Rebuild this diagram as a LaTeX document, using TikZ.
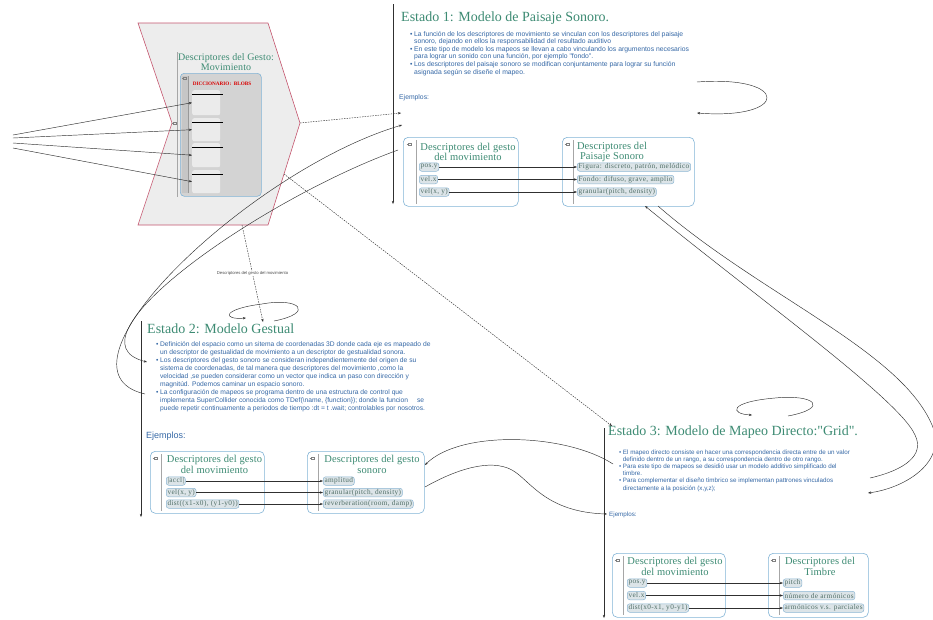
\documentclass[tikz,border=0pt]{standalone}
\usepackage{fontspec}
\setmainfont{Liberation Serif}
\setsansfont{Liberation Sans}
\newfontfamily\pillserif[LetterSpace=5]{Liberation Serif}
\newfontfamily\headserif[LetterSpace=1]{Liberation Serif}
\usetikzlibrary{arrows.meta}

\definecolor{stategreen}{HTML}{3D8B73}
\definecolor{bulletblue}{HTML}{3568A6}
\definecolor{frameblue}{HTML}{82B4D6}
\definecolor{pillfill}{HTML}{DCE4E8}
\definecolor{pillline}{HTML}{8DB7D3}
\definecolor{pilltext}{HTML}{4F6E66}
\definecolor{wire}{HTML}{303030}
\definecolor{chevronline}{HTML}{C5566F}
\definecolor{chevronfill}{HTML}{EDEDED}
\definecolor{dictfill}{HTML}{D3D3D3}
\definecolor{dictstrip}{HTML}{C6C6C6}
\definecolor{blobfill}{HTML}{EBEBEB}

% bullet and continuation-line prefixes for the state notes
\newcommand\bitem{\textbullet\hspace{1.6pt}}
\newcommand\bcont{\hphantom{\textbullet}\hspace{1.6pt}}

\tikzset{
  statetitle/.style={font=\fontsize{14}{14}\selectfont, text=stategreen, anchor=base west, inner sep=0pt},
  notes/.style 2 args={font=\sffamily\fontsize{#1}{#2}\selectfont, text=bulletblue, anchor=base west, inner sep=0pt},
  example/.style={font=\sffamily\fontsize{#1}{#1}\selectfont, text=bulletblue, anchor=base west, inner sep=0pt},
  frame/.style={draw=frameblue, line width=0.6pt, rounded corners=5pt, fill=white, anchor=north west, inner sep=0pt},
  boxhead/.style={font=\headserif\fontsize{10.5}{10.5}\selectfont, text=stategreen, align=center, inner sep=0pt},
  pill/.style={draw=pillline, fill=pillfill, line width=0.5pt, rounded corners=2.5pt,
    font=\pillserif\fontsize{7.3}{7.3}\selectfont, text=pilltext, anchor=west,
    inner xsep=1.3pt, inner ysep=0pt, minimum height=8.5pt},
  link/.style={draw=wire, line width=0.45pt, -{Stealth[length=3.2pt,width=2.4pt]}},
  dlink/.style={link, dash pattern=on 1.5pt off 1.1pt},
  sepline/.style={draw=gray!70, line width=0.5pt},
  foldmark/.pic={
    \draw[gray, line width=0.3pt] (-2.4,0) -- (-1,0);
    \draw[gray, line width=0.3pt] (-0.4,-1.3) rectangle (1.9,1.3);},
}

\begin{document}
\begin{tikzpicture}[x=1pt,y=-1pt]
\useasboundingbox (0,0) rectangle (933,619);
\fill[white] (0,0) rectangle (933,619);

% ---------- gesture descriptor chevron ----------
\coordinate (chevtip) at (300,123);
\coordinate (chevbase) at (242,225);
\coordinate (chevside) at (284,174);
\filldraw[fill=chevronfill, draw=chevronline, line width=0.6pt]
  (138,23) -- (268,23) -- (chevtip) -- (268,225) -- (138,225) -- (172,123) -- cycle;
\pic at (174,123) {foldmark};
\draw[sepline] (177,52) -- (177,197);
\node[font=\headserif\fontsize{10}{10.5}\selectfont, text=stategreen, align=center, inner sep=0pt]
  (gtitle) at (226,62) {Descriptores del Gesto:\\Movimiento};
\node[draw=frameblue, fill=dictfill, line width=0.6pt, rounded corners=4pt,
  minimum width=81pt, minimum height=123pt, anchor=north west, inner sep=0pt] (dict) at (180,73) {};
\fill[dictstrip] (181.5,76) rectangle (188,193);
\draw[gray!80, line width=0.4pt] (188,76) -- (188,193);
\pic at (184,78) {foldmark};
\node[font=\bfseries\fontsize{5.2}{5.2}\selectfont, text=red!85!black, inner sep=0pt]
  (dictlabel) at (222,84) {DICCIONARIO:\ \ BLOBS};
\foreach \i/\top/\h in {1/90/25, 2/118/23, 3/143/24, 4/170/23}{
  \node[fill=blobfill, rounded corners=2pt, minimum width=28pt, minimum height=\h pt,
    anchor=north west, inner sep=0pt] (blob\i) at (192,\top) {};
  \draw[line width=1.6pt] (192,\top+4.5) -- (222.5,\top+4.5);
}
\coordinate (in1) at (13,135);
\coordinate (in2) at (13,138);
\coordinate (in3) at (13,143);
\coordinate (in4) at (13,148);
\foreach \i in {1,...,4}{ \draw[link] (in\i) -- (blob\i.west); }

% ---------- Estado 1 ----------
\coordinate (s1top) at (393,4);
\coordinate (s1bot) at (393,204);
\draw[link] (s1top) -- (s1bot);
\node[statetitle] (s1title) at (401,21) {Estado 1: Modelo de Paisaje Sonoro.};
\node[notes={6.8}{7.6}] (s1notes) at (410,36) {\begin{tabular}[t]{@{}l@{}}
\bitem La función de los descriptores de movimiento se vinculan con los descriptores del paisaje\\
\bcont sonoro, dejando en ellos la responsabilidad del resultado auditivo\\
\bitem En este tipo de modelo los mapeos se llevan a cabo vinculando los argumentos necesarios\\
\bcont para lograr un sonido con una función, por ejemplo \textquotedbl fondo\textquotedbl.\\
\bitem Los descriptores del paisaje sonoro se modifican conjuntamente para lograr su función\\
\bcont asignada según se diseñe el mapeo.
\end{tabular}};
\node[example=6.8] (s1ex) at (399,99) {Ejemplos:};

\node[frame, minimum width=115pt, minimum height=69pt] (bA) at (403,137) {};
\draw[sepline] ([xshift=13pt,yshift=-3pt]bA.north west) -- ([xshift=13pt,yshift=3pt]bA.south west);
\pic at ([xshift=6pt,yshift=-7pt]bA.north west) {foldmark};
\node[boxhead] (bAh) at (468,152) {Descriptores del gesto\\del movimiento};
\node[pill] (a1) at (419,167) {pos.y};
\node[pill] (a2) at (419,179.5) {vel.x};
\node[pill] (a3) at (419,192) {vel(x, y)};

\node[frame, minimum width=132pt, minimum height=69pt] (bB) at (562,137) {};
\draw[sepline] ([xshift=11pt,yshift=-3pt]bB.north west) -- ([xshift=11pt,yshift=3pt]bB.south west);
\pic at ([xshift=5pt,yshift=-7pt]bB.north west) {foldmark};
\node[boxhead] (bBh) at (612,152) {Descriptores del\\Paisaje Sonoro};
\node[pill] (b1) at (577,167) {Figura: discreto, patrón, melódico};
\node[pill] (b2) at (577,179.5) {Fondo: difuso, grave, amplio};
\node[pill] (b3) at (577,192) {granular(pitch, density)};
\draw[link] (a1) -- (b1);
\draw[link] (a2) -- (b2);
\draw[link] (a3) -- (b3);

% ---------- Estado 2 ----------
\coordinate (s2top) at (141,321);
\coordinate (s2bot) at (141,517);
\draw[link] (s2top) -- (s2bot);
\node[statetitle] (s2title) at (147,333) {Estado 2: Modelo Gestual};
\node[notes={6.7}{8.1}] (s2notes) at (156,346) {\begin{tabular}[t]{@{}l@{}}
\bitem Definición del espacio como un sitema de coordenadas 3D donde cada eje es mapeado de\\
\bcont un descriptor de gestualidad de movimiento a un descriptor de gestualidad sonora.\\
\bitem Los descriptores del gesto sonoro se consideran independientemente del origen de su\\
\bcont sistema de coordenadas, de tal manera que descriptores del movimiento ,como la\\
\bcont velocidad ,se pueden considerar como un vector que indica un paso con dirección y\\
\bcont magnitúd. Podemos caminar un espacio sonoro.\\
\bitem La configuración de mapeos se programa dentro de una estructura de control que\\
\bcont implementa SuperCollider conocida como TDef(\textbackslash name, \{function\}); donde la funcion\hspace{9pt}se\\
\bcont puede repetir continuamente a periodos de tiempo :dt = t .wait; controlables por nosotros.
\end{tabular}};
\node[example=9] (s2ex) at (146,438) {Ejemplos:};

\node[frame, minimum width=114pt, minimum height=62pt] (bC) at (150,451) {};
\draw[sepline] ([xshift=11pt,yshift=-3pt]bC.north west) -- ([xshift=11pt,yshift=3pt]bC.south west);
\pic at ([xshift=5pt,yshift=-7pt]bC.north west) {foldmark};
\node[boxhead] (bCh) at (214.5,464.5) {Descriptores del gesto\\del movimiento};
\node[pill] (c1) at (166,481) {|accl|};
\node[pill] (c2) at (166,492.5) {vel(x, y)};
\node[pill] (c3) at (166,504) {dist((x1-x0), (y1-y0))};

\node[frame, minimum width=117pt, minimum height=62pt] (bD) at (307,451) {};
\draw[sepline] ([xshift=11pt,yshift=-3pt]bD.north west) -- ([xshift=11pt,yshift=3pt]bD.south west);
\pic at ([xshift=5pt,yshift=-7pt]bD.north west) {foldmark};
\node[boxhead] (bDh) at (372,464.5) {Descriptores del gesto\\sonoro};
\node[pill] (d1) at (323,481) {amplitud};
\node[pill] (d2) at (323,492.5) {granular(pitch, density)};
\node[pill] (d3) at (323,504) {reverberation(room, damp)};
\draw[link] (c1) -- (d1);
\draw[link] (c2) -- (d2);
\draw[link] (c3) -- (d3);

% ---------- Estado 3 ----------
\coordinate (s3top) at (604,428);
\coordinate (s3bot) at (604,618);
\draw[link] (s3top) -- (s3bot);
\node[statetitle] (s3title) at (608,435) {Estado 3: Modelo de Mapeo Directo:\textquotedbl Grid\textquotedbl.};
\node[notes={6.25}{7.2}] (s3notes) at (619,454) {\begin{tabular}[t]{@{}l@{}}
\bitem El mapeo directo consiste en hacer una correspondencia directa entre de un valor\\
\bcont definido dentro de un rango, a su correspondencia dentro de otro rango.\\
\bitem Para este tipo de mapeos se desidió usar un modelo additivo simplificado del\\
\bcont timbre.\\
\bitem Para complementar el diseño tímbrico se implementan pattrones vinculados\\
\bcont directamente a la posición (x,y,z);
\end{tabular}};
\node[example=6.25] (s3ex) at (609,516) {Ejemplos:};

\node[frame, minimum width=113pt, minimum height=64pt] (bE) at (612,553) {};
\draw[sepline] ([xshift=11pt,yshift=-3pt]bE.north west) -- ([xshift=11pt,yshift=3pt]bE.south west);
\pic at ([xshift=5pt,yshift=-7pt]bE.north west) {foldmark};
\node[boxhead] (bEh) at (675,566.5) {Descriptores del gesto\\del movimiento};
\node[pill] (e1) at (627,583) {pos.y};
\node[pill] (e2) at (627,595.5) {vel.x};
\node[pill] (e3) at (627,608) {dist(x0-x1, y0-y1)};

\node[frame, minimum width=100pt, minimum height=64pt] (bF) at (768,553) {};
\draw[sepline] ([xshift=11pt,yshift=-3pt]bF.north west) -- ([xshift=11pt,yshift=3pt]bF.south west);
\pic at ([xshift=5pt,yshift=-7pt]bF.north west) {foldmark};
\node[boxhead] (bFh) at (820,566.5) {Descriptores del\\Timbre};
\node[pill] (f1) at (783,583) {pitch};
\node[pill] (f2) at (783,595.5) {número de armónicos};
\node[pill] (f3) at (783,608) {armónicos v.s. parciales};
\draw[link] (e1) -- (f1);
\draw[link] (e2) -- (f2);
\draw[link] (e3) -- (f3);

% ---------- transitions between states ----------
\coordinate (s1dash) at (401,113);
\coordinate (s1in) at (402,125);
\coordinate (s1out) at (398,150);
\coordinate (s2in) at (147,362);
\coordinate (s2out) at (145,394);
\coordinate (s2dash) at (263,322);
\coordinate (s3dash) at (612,426);
\coordinate (bBin) at (645,206);
\coordinate (bBout) at (658,206);
\coordinate (s3in) at (868,493);
\coordinate (s3out) at (870,478);
\coordinate (s3left) at (613,464);
\coordinate (bDin) at (425,465);
\coordinate (bDout) at (425,487);
\coordinate (s3exin) at (607,514);

\draw[dlink] (chevtip) -- (s1dash);
\draw[dlink] (chevbase) -- node[pos=0.5, fill=white, inner sep=0.6pt,
  font=\sffamily\fontsize{4.2}{4.2}\selectfont, text=gray!60!black] (dashlabel)
  {Descriptores del gesto del movimiento} (s2dash);
\draw[dlink] (chevside) -- (s3dash);

\draw[link] (s2out) .. controls (40,370) and (250,170) .. (s1in);
\draw[link] (s1out) .. controls (260,200) and (60,340) .. (s2in);
\draw[link] (bBout) .. controls (760,295) and (900,350) .. (932,425)
  .. controls (948,462) and (905,488) .. (s3in);
\draw[link] (s3out) .. controls (905,470) and (925,455) .. (915,435)
  .. controls (900,400) and (760,300) .. (bBin);
\draw[link] (s3left) .. controls (565,433) and (460,430) .. (bDin);
\draw[link] (bDout) .. controls (455,470) and (490,458) .. (512,470)
  .. controls (530,480) and (545,512) .. (s3exin);

% self transitions
\coordinate (lp1a) at (697,82);
\coordinate (lp1b) at (697,113);
\draw[link] (lp1a) .. controls (790,75) and (790,120) .. (lp1b);
\coordinate (lp2a) at (274,321);
\coordinate (lp2b) at (246,318);
\draw[link] (lp2a) .. controls (315,313) and (300,297) .. (262,304)
  .. controls (222,309) and (222,320) .. (lp2b);
\coordinate (lp3a) at (788,416);
\coordinate (lp3b) at (752,415);
\draw[link] (lp3a) .. controls (830,408) and (815,394) .. (775,398)
  .. controls (728,402) and (730,414) .. (lp3b);
\end{tikzpicture}
\end{document}
